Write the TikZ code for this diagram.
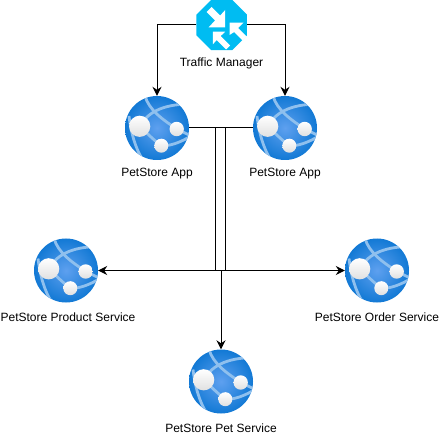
\documentclass[tikz,border=0pt]{standalone}
\usepackage{fontspec}
\setmainfont{Liberation Sans}
\usetikzlibrary{arrows.meta,shapes.geometric}
\definecolor{webblue}{HTML}{1078D4}
\definecolor{webinner}{HTML}{5EA0EF}
\definecolor{webband}{HTML}{8FC0EE}
\definecolor{tmblue}{HTML}{00BCF2}
\newcommand{\webbands}{
	\shade[inner color=webinner, outer color=webblue] (-33,-33) rectangle (33,33);
	\draw[webband, line width=2.8pt] (-12,-32) .. controls (-8,-18) and (6,-8) .. (20,1) -- (34,8);
	\draw[webband, line width=2.8pt] (-17,-2) .. controls (-8,-18) and (10,-24) .. (34,-24);
	\draw[webband, line width=2.8pt] (-17,-2) .. controls (-8,8) and (0,14) .. (4,18) .. controls (14,18) and (24,14) .. (34,8);
	\draw[webband, line width=2.8pt] (-28,-12) .. controls (-26,4) and (-22,20) .. (-14,32);
	\shade[top color=white, bottom color=black!12] (-17.3,-1.7) circle (10.6);
	\shade[top color=white, bottom color=black!12] (19.7,1) circle (7.2);
	\shade[top color=white, bottom color=black!12] (4.3,17.7) circle (7);
}
\tikzset{
	webapp/.style={circle, minimum size=64pt, inner sep=0pt,
		path picture={\begin{scope}[shift={(path picture bounding box.center)}]\webbands\end{scope}}},
	caption/.style={font=\fontsize{12}{14}\selectfont},
	flow/.style={line width=1pt},
	flowarrow/.style={flow, -{Stealth[length=9pt,width=9pt,inset=3pt]}}
}
\begin{document}
\begin{tikzpicture}[x=1pt, y=-1pt]
	\useasboundingbox (0,0) rectangle (440,436);
	% traffic manager
	\node[regular polygon, regular polygon sides=8, minimum size=54.6pt, inner sep=0pt, fill=tmblue] (manager) at (221.7,25) {};
	\begin{scope}[shift={(manager.center)}, fill=white]
		\fill (3.5,-15) -- (3.5,2.3) -- (-13.2,2.3) -- (-6.5,-4.5) -- (-15,-13) -- (-10,-18) -- (-1.5,-9.5) -- cycle;
		\fill (7.8,-2.3) -- (21.8,-2.3) -- (16.5,3) -- (25,11.5) -- (21,15.5) -- (12.5,7) -- (7.8,10) -- cycle;
		\fill (-8.8,6.7) -- (3.5,6.7) -- (-1,11) -- (8.5,20.5) -- (4.5,24.5) -- (-5,15) -- (-8.8,19.3) -- cycle;
	\end{scope}
	\node[caption] (managerlabel) at (221.5,63.5) {Traffic Manager};
	% the five services
	\node[webapp] (app1) at (157,128) {};
	\node[webapp] (app2) at (285,128) {};
	\node[webapp] (product) at (66,270.5) {};
	\node[webapp] (order) at (377,270.5) {};
	\node[webapp] (pet) at (221,381.5) {};
	\node[caption] (app1label) at (157,174) {PetStore App};
	\node[caption] (app2label) at (285,174) {PetStore App};
	\node[caption] (productlabel) at (68,317.5) {PetStore Product Service};
	\node[caption] (orderlabel) at (377,317.5) {PetStore Order Service};
	\node[caption] (petlabel) at (221,428.5) {PetStore Pet Service};
	% connectors
	\coordinate (busleft) at (215.7,270.5);
	\coordinate (busright) at (225.3,270.5);
	\coordinate (busmid) at (221,270.5);
	\draw[flowarrow] (manager.west |- 0,25) -| (app1.north);
	\draw[flowarrow] (manager.east |- 0,25) -| (app2.north);
	\draw[flow] (app1.east) -| (busright);
	\draw[flow] (app2.west) -| (busleft);
	\draw[flowarrow] (busleft) -- (product.east);
	\draw[flowarrow] (busright) -- (order.west);
	\draw[flow] (busleft) -- (busright);
	\draw[flowarrow] (busmid) -- (pet.north);
\end{tikzpicture}
\end{document}
